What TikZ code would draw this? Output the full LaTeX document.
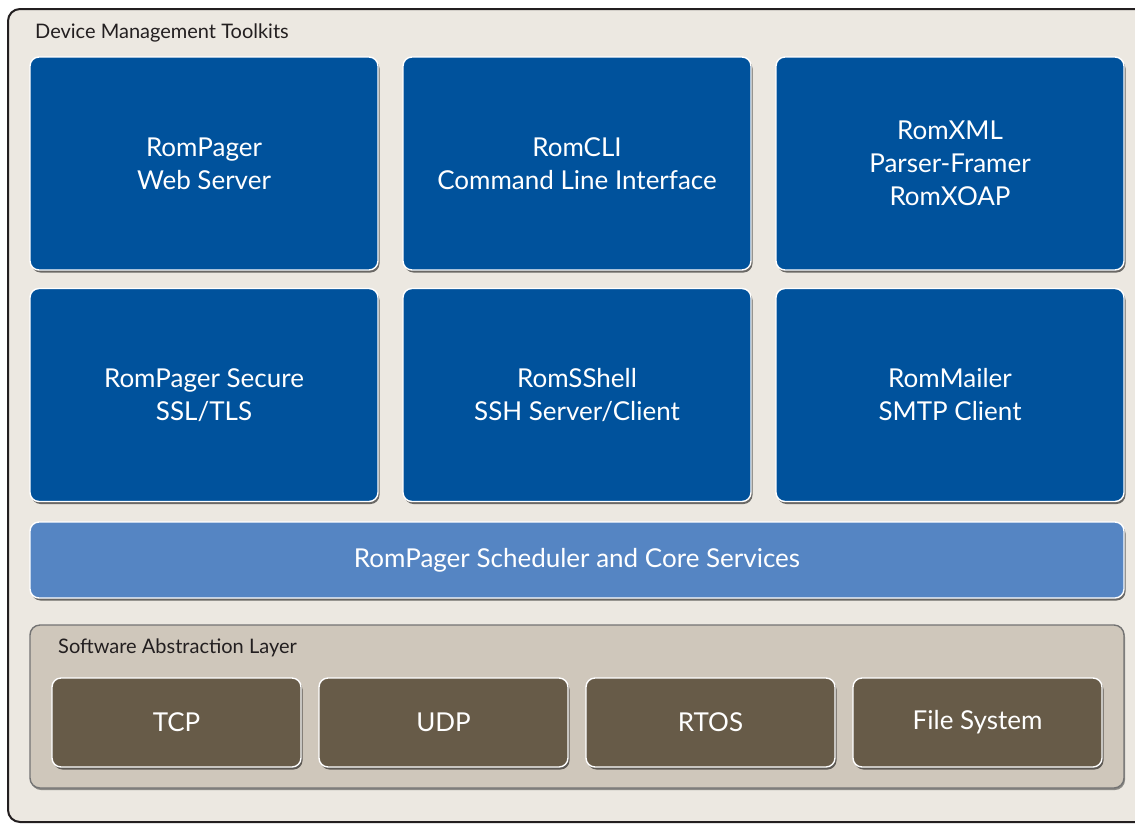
\documentclass[tikz,border=0pt]{standalone}
\usepackage{fontspec}
\setmainfont{Lato}
\usetikzlibrary{shadows}
\definecolor{bgc}{HTML}{ECE8E1}
\definecolor{bluec}{HTML}{00529C}
\definecolor{lbluec}{HTML}{5585C3}
\definecolor{salc}{HTML}{CFC7BB}
\definecolor{brownc}{HTML}{675B48}
\definecolor{framec}{HTML}{231F20}
\tikzset{
  tile/.style={draw=white, line width=1.4pt, rounded corners=9pt, text=white,
    align=center, font=\fontsize{26}{33}\selectfont,
    drop shadow={shadow xshift=1.5pt, shadow yshift=-2.5pt, opacity=.55, fill=black},
    inner sep=0pt},
  bluetile/.style={tile, fill=bluec, minimum width=348pt, minimum height=213pt},
  coretile/.style={tile, fill=lbluec, minimum width=1094pt, minimum height=76pt},
  browntile/.style={tile, fill=brownc, minimum width=249pt, minimum height=89pt},
  saltile/.style={draw=gray!90!black, line width=1.4pt, rounded corners=10pt, fill=salc,
    minimum width=1094pt, minimum height=163pt, inner sep=0pt,
    drop shadow={shadow xshift=1pt, shadow yshift=-2pt, opacity=.4, fill=black}},
  caption/.style={anchor=west, text=framec, font=\fontsize{20}{22}\selectfont, inner sep=0pt}
}
\begin{document}
\begin{tikzpicture}[x=1pt, y=-1pt]
\useasboundingbox (0,0) rectangle (1135,823);
\draw[framec, line width=2pt, fill=bgc, rounded corners=12pt] (8,9) rectangle (1150,822);
\node[caption] (title) at (35,33) {Device Management Toolkits};
\node[bluetile] (rp) at (204,163.5) {RomPager\\Web Server};
\node[bluetile] (cli) at (577,163.5) {RomCLI\\Command Line Interface};
\node[bluetile] (xml) at (950,163.5) {RomXML\\Parser-Framer\\RomXOAP};
\node[bluetile] (sec) at (204,395) {RomPager Secure\\SSL/TLS};
\node[bluetile] (ssh) at (577,395) {RomSShell\\SSH Server/Client};
\node[bluetile] (mail) at (950,395) {RomMailer\\SMTP Client};
\node[coretile] (core) at (577,560) {RomPager Scheduler and Core Services};
\node[saltile] (sal) at (577,706.5) {};
\node[caption] (saltitle) at (58,648) {Software Abstraction Layer};
\node[browntile] (tcp) at (176.5,722.5) {TCP};
\node[browntile] (udp) at (443.5,722.5) {UDP};
\node[browntile] (rtos) at (710.5,722.5) {RTOS};
\node[browntile] (fs) at (977.5,722.5) {File System};
\end{tikzpicture}
\end{document}
